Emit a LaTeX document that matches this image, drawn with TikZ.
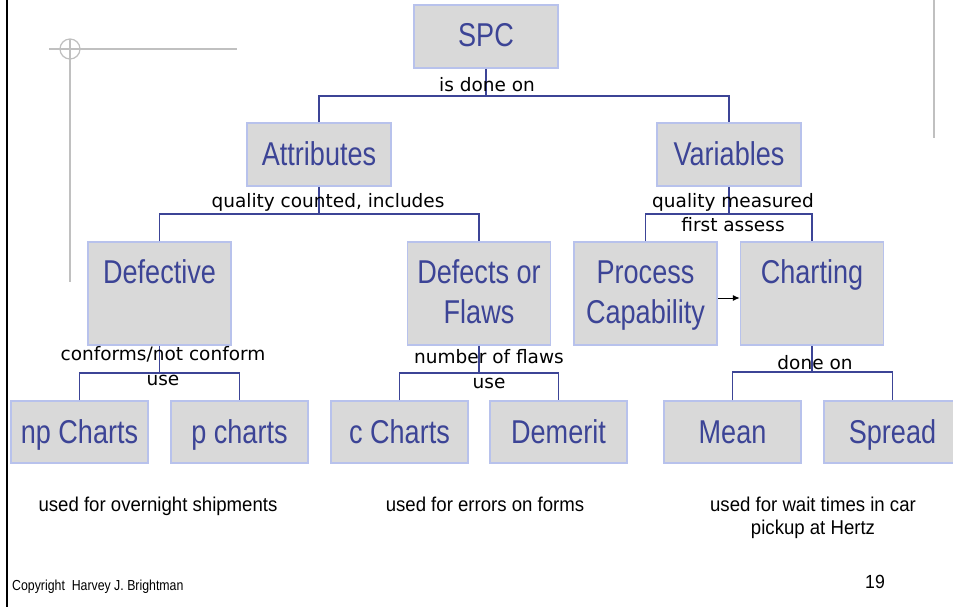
\documentclass[tikz,border=0pt]{standalone}
\usepackage{fontspec}
\setmainfont{Liberation Sans}
\newfontfamily\boxfont[FakeStretch=0.82]{Liberation Sans}
\newfontfamily\labfont{DejaVu Sans}
\newfontfamily\notefont[FakeStretch=0.93]{Liberation Sans}
\newfontfamily\smallfont[FakeStretch=0.85]{Liberation Sans}
\usetikzlibrary{calc,arrows.meta}
\definecolor{boxfill}{RGB}{217,217,217}
\definecolor{boxline}{RGB}{184,194,236}
\definecolor{boxtext}{RGB}{60,68,150}
\definecolor{connc}{RGB}{60,68,150}
\definecolor{deco}{RGB}{192,192,192}
\begin{document}
\begin{tikzpicture}[x=1pt,y=-1pt,
 box/.style={draw=boxline, fill=boxfill, line width=1.5pt, inner sep=0pt, minimum width=144pt, minimum height=63pt},
 tallbox/.style={box, minimum width=143pt, minimum height=103pt},
 lowbox/.style={box, minimum width=137pt, minimum height=62pt},
 boxlbl/.style={text=boxtext, font=\boxfont\fontsize{33}{40}\selectfont, inner sep=0pt, anchor=base},
 conn/.style={draw=connc, line width=1.6pt},
 lbl/.style={font=\labfont\fontsize{18.5}{22}\selectfont, inner sep=0pt, anchor=base},
 note/.style={font=\notefont\fontsize{20}{23}\selectfont, inner sep=0pt, anchor=base},
 decoline/.style={draw=deco, line width=1.6pt},
]
\useasboundingbox (0,0) rectangle (953,607);
\fill[white] (0,0) rectangle (953,607);

% decorations
\draw[line width=2.5pt] (7,0) -- (7,607);
\draw[decoline] (49,49) -- (237,49);
\draw[decoline] (70,39) -- (70,282);
\draw[decoline, line width=1.2pt] (70,49) circle (10);
\draw[decoline, line width=2pt] (934,0) -- (934,138);

% box outlines (nodes)
\path (486,36.5) node[box] (spc) {};
\path (319,154.5) node[box] (attr) {};
\path (729,154.5) node[box] (var) {};
\path (159.5,293.5) node[tallbox] (def) {};
\path (479,293.5) node[tallbox] (dfl) {};
\path (645.5,293.5) node[tallbox] (pc) {};
\path (812,293.5) node[tallbox] (ch) {};
\path (79.5,432) node[lowbox] (np) {};
\path (239.5,432) node[lowbox] (pch) {};
\path (399.5,432) node[lowbox] (cch) {};
\path (558.5,432) node[lowbox] (dem) {};
\path (732.5,432) node[lowbox] (mean) {};
\path (892.5,432) node[lowbox] (spr) {};

% connectors
\coordinate (b0) at (486,96);
\coordinate (b1) at (319,214);
\coordinate (b2) at (729,214);
\coordinate (b3) at (159.5,373);
\coordinate (b4) at (479,373);
\coordinate (b5) at (812,372);
\draw[conn] (spc.south) -- (b0);
\draw[conn] (attr.north) |- (b0) -| (var.north);
\draw[conn] (attr.south) -- (b1);
\draw[conn] (def.north) |- (b1) -| (dfl.north);
\draw[conn] (var.south) -- (b2);
\draw[conn] (pc.north) |- (b2) -| (ch.north);
\draw[conn] (def.south) -- (b3);
\draw[conn] (np.north) |- (b3) -| (pch.north);
\draw[conn] (dfl.south) -- (b4);
\draw[conn] (cch.north) |- (b4) -| (dem.north);
\draw[conn] (ch.south) -- (b5);
\draw[conn] (mean.north) |- (b5) -| (spr.north);
\draw[-{Latex[length=7pt,width=6pt]}, line width=1pt] ([yshift=-4.5pt]pc.east) -- ([yshift=-4.5pt]ch.west);

% box texts
\node[boxlbl] (tspc) at (486,47) {SPC};
\node[boxlbl] (tattr) at (319,165) {Attributes};
\node[boxlbl] (tvar) at (729,165) {Variables};
\node[boxlbl] (tdef) at (159.5,283) {Defective};
\node[boxlbl] (tdfl1) at (479,283) {Defects or};
\node[boxlbl] (tdfl2) at (479,323) {Flaws};
\node[boxlbl] (tpc1) at (645.5,283) {Process};
\node[boxlbl] (tpc2) at (645.5,323) {Capability};
\node[boxlbl] (tch) at (812,283) {Charting};
\node[boxlbl] (tnp) at (79.5,443) {np Charts};
\node[boxlbl] (tpch) at (239.5,443) {p charts};
\node[boxlbl] (tcch) at (399.5,443) {c Charts};
\node[boxlbl] (tdem) at (558.5,443) {Demerit};
\node[boxlbl] (tmean) at (732.5,443) {Mean};
\node[boxlbl] (tspr) at (892.5,443) {Spread};

% connector labels
\node[lbl] (l0) at (487,92) {is done on};
\node[lbl] (l1) at (328,207) {quality counted, includes};
\node[lbl] (l2) at (733,207) {quality measured};
\node[lbl] (l3) at (733,231) {first assess};
\node[lbl] (l4) at (163,360) {conforms/not conform};
\node[lbl] (l5) at (163,385) {use};
\node[lbl] (l6) at (489,363) {number of flaws};
\node[lbl] (l7) at (489,388) {use};
\node[lbl] (l8) at (815,369) {done on};

% notes
\node[note] (n1) at (158,511) {used for overnight shipments};
\node[note] (n2) at (485,511) {used for errors on forms};
\node[note] (n3) at (813,511) {used for wait times in car};
\node[note] (n4) at (813,534) {pickup at Hertz};
\node[font=\smallfont\fontsize{14.5}{17}\selectfont, inner sep=0pt, anchor=base west] (copy) at (12,590) {Copyright\ \ Harvey J. Brightman};
\node[font=\notefont\fontsize{19}{22}\selectfont, inner sep=0pt, anchor=base] (pg) at (875,588) {19};
\end{tikzpicture}
\end{document}
